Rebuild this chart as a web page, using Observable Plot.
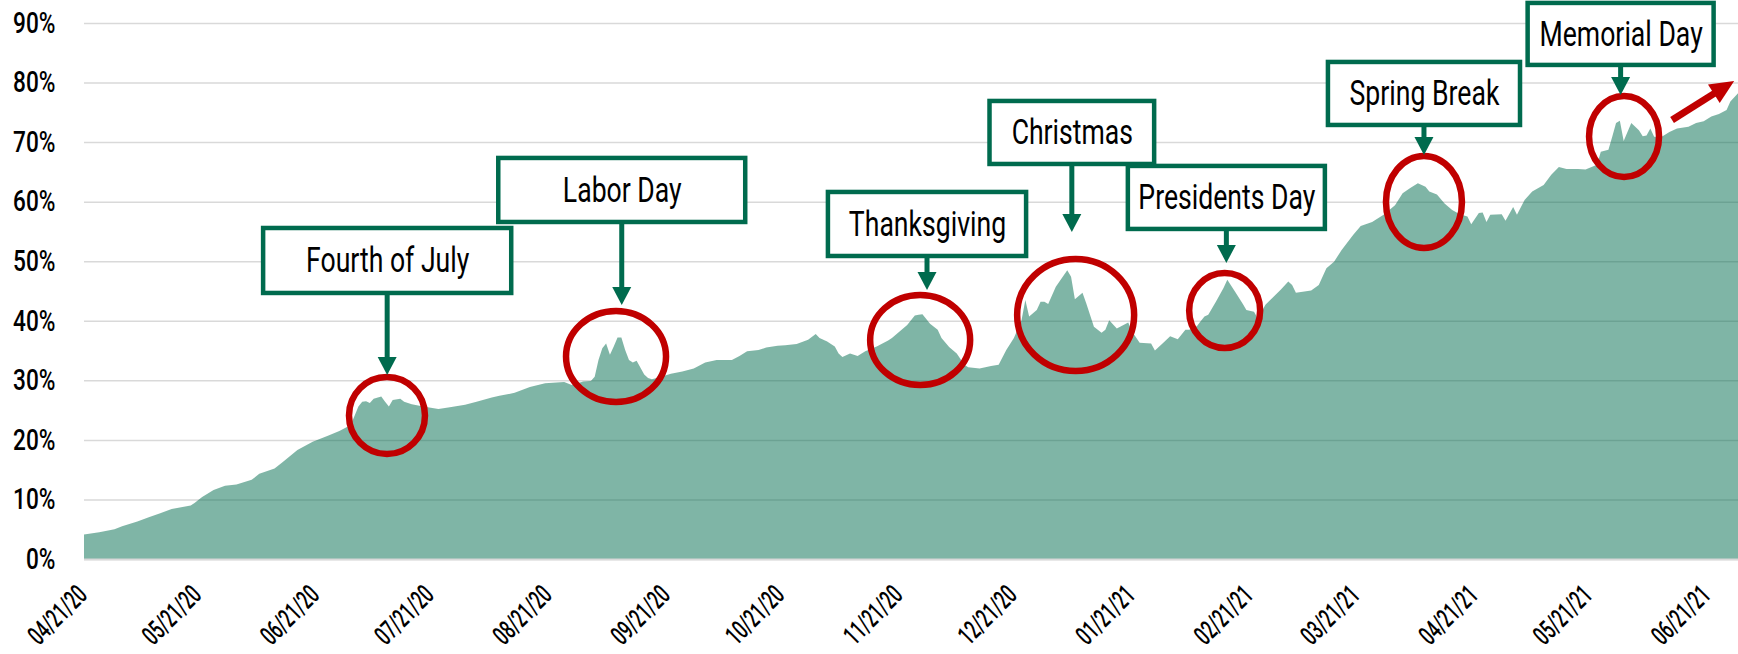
<!DOCTYPE html>
<html>
<head>
<meta charset="utf-8">
<script src="https://cdn.jsdelivr.net/npm/d3@7"></script>
<script src="https://cdn.jsdelivr.net/npm/@observablehq/plot@0.6"></script>
<style>
  html, body { margin: 0; padding: 0; background: #ffffff; }
  #chart svg { display: block; }
</style>
</head>
<body>
<div id="chart"></div>
<script>
// ---- Data ----
const startDate = "2020-04-21";          // day 0 of the series
const endDay = 434;                       // last day shown on the x axis

// days since startDate
const days = [
  0, 4, 8, 10, 14, 17, 20, 23, 28, 29,
  31, 34, 37, 40, 44, 46, 50, 52, 56, 60,
  64, 67, 70, 72, 73, 74, 75, 76, 78, 79,
  80, 81, 83, 84, 86, 89, 93, 96, 100, 103,
  107, 109, 113, 117, 121, 126, 128, 131, 133, 134,
  135, 136, 137, 138, 139, 140, 141, 142, 143, 144,
  145, 147, 148, 149, 151, 154, 157, 160, 163, 166,
  170, 172, 174, 177, 179, 182, 184, 187, 190, 192,
  193, 195, 197, 198, 199, 201, 203, 205, 208, 211,
  212, 214, 216, 218, 219, 220, 221, 222, 224, 225,
  227, 229, 231, 232, 235, 238, 240, 242, 244, 246,
  247, 248, 250, 251, 252, 253, 255, 258, 259, 260,
  262, 263, 265, 267, 268, 269, 271, 274, 275, 277,
  280, 281, 283, 285, 287, 289, 290, 292, 293, 294,
  295, 297, 299, 300, 302, 304, 305, 307, 308, 310,
  314, 316, 317, 318, 322, 324, 326, 328, 330, 333,
  335, 338, 341, 344, 346, 348, 350, 352, 353, 355,
  357, 359, 361, 363, 364, 366, 367, 368, 369, 372,
  373, 375, 376, 378, 380, 383, 385, 387, 389, 392,
  394, 397, 398, 400, 401, 402, 403, 404, 406, 408,
  409, 410, 411, 412, 414, 416, 418, 421, 423, 425,
  427, 429, 431, 432, 434
];

// percent values
const values = [
  4.1, 4.5, 5.0, 5.5, 6.3, 7.0, 7.7, 8.4, 9.0, 9.4,
  10.4, 11.6, 12.3, 12.5, 13.3, 14.3, 15.2, 16.2, 18.3, 19.7,
  20.7, 21.5, 22.5, 25.6, 26.4, 26.5, 26.2, 26.9, 27.3, 26.4,
  25.6, 26.7, 26.9, 26.4, 26.0, 25.6, 25.2, 25.5, 25.9, 26.4,
  27.1, 27.4, 27.9, 28.9, 29.5, 29.7, 29.2, 29.8, 29.9, 30.6,
  33.4, 35.4, 36.2, 34.3, 35.7, 37.2, 37.2, 35.1, 33.4, 33.0,
  33.3, 31.0, 30.4, 30.2, 30.5, 31.1, 31.5, 32.0, 33.0, 33.4,
  33.4, 34.1, 34.9, 35.1, 35.5, 35.8, 35.9, 36.1, 36.8, 37.8,
  37.1, 36.5, 35.7, 34.5, 33.9, 34.5, 34.1, 34.9, 35.7, 36.7,
  37.1, 38.2, 39.3, 40.9, 41.0, 41.1, 40.3, 39.5, 38.5, 37.1,
  35.6, 34.5, 32.6, 32.2, 32.0, 32.4, 32.6, 35.1, 37.1, 40.1,
  43.5, 40.7, 41.8, 43.2, 43.2, 42.8, 45.7, 48.5, 47.4, 43.6,
  44.7, 42.9, 39.0, 38.0, 38.5, 40.1, 38.7, 39.7, 38.2, 36.3,
  36.2, 35.0, 36.2, 37.4, 36.9, 38.5, 38.5, 39.1, 39.9, 40.7,
  41.0, 43.2, 45.5, 46.9, 44.9, 42.9, 41.8, 41.5, 40.4, 42.7,
  45.2, 46.6, 46.0, 44.7, 45.1, 46.0, 48.8, 49.9, 51.9, 54.4,
  55.9, 56.6, 57.8, 59.4, 61.4, 62.3, 63.1, 62.5, 61.7, 61.2,
  59.7, 58.6, 57.9, 57.5, 56.2, 58.1, 58.2, 56.6, 57.8, 57.9,
  56.8, 59.1, 57.8, 60.3, 61.7, 62.8, 64.5, 65.8, 65.5, 65.5,
  65.4, 66.2, 68.4, 68.7, 70.9, 73.2, 73.6, 70.2, 73.2, 72.0,
  71.0, 71.1, 72.3, 70.9, 70.9, 71.7, 72.3, 72.6, 73.2, 73.5,
  74.3, 74.7, 75.4, 76.8, 78.2
];

const tickDates = [
  "2020-04-21", "2020-05-21", "2020-06-21", "2020-07-21", "2020-08-21",
  "2020-09-21", "2020-10-21", "2020-11-21", "2020-12-21", "2021-01-21",
  "2021-02-21", "2021-03-21", "2021-04-21", "2021-05-21", "2021-06-21"
];
const yTicks = [0, 10, 20, 30, 40, 50, 60, 70, 80, 90];

const holidayLabels = ["Fourth of July", "Labor Day", "Thanksgiving", "Christmas",
                       "Presidents Day", "Spring Break", "Memorial Day"];

// ---- Annotation layout (in data units: days & percent) ----
const annotationLayout = [
  {x1: 47.0,  x2: 112.1, top: 55.58, bottom: 44.67, tip: 30.9,  cx: 79.5,  cy: 24.1,  rx: 38,   ry: 38.5},
  {x1: 108.7, x2: 173.5, top: 67.34, bottom: 56.59, tip: 42.65, cx: 139.6, cy: 34.0,  rx: 50,   ry: 45.5},
  {x1: 195.2, x2: 247.2, top: 61.63, bottom: 50.88, tip: 45.17, cx: 219.4, cy: 36.78, rx: 50,   ry: 45},
  {x1: 237.6, x2: 280.8, top: 76.91, bottom: 66.33, tip: 54.91, cx: 260.2, cy: 40.97, rx: 58.5, ry: 56},
  {x1: 273.9, x2: 325.6, top: 66.0,  bottom: 55.42, tip: 49.71, cx: 299.3, cy: 41.73, rx: 35.5, ry: 37.5},
  {x1: 326.4, x2: 376.8, top: 83.46, bottom: 72.88, tip: 67.84, cx: 351.6, cy: 59.95, rx: 38,   ry: 46},
  {x1: 378.8, x2: 427.6, top: 93.37, bottom: 82.96, tip: 77.92, cx: 404.1, cy: 70.95, rx: 35,   ry: 40.5}
];
const trendArrow = {from: [416.7, 73.72], to: [433.0, 80.27]};

// ---- Build ----
const t0 = new Date(startDate + "T00:00:00Z");
const dayToDate = d => new Date(+t0 + d * 864e5);
const series = days.map((d, i) => ({date: dayToDate(d), value: values[i]}));
const annotations = annotationLayout.map((a, i) => ({...a, label: holidayLabels[i]}));
const xTicks = tickDates.map(s => new Date(s + "T00:00:00Z"));
const fmtDate = d3.utcFormat("%m/%d/%y");

const GREEN = "#006B4E";
const RED = "#C00000";
const FONT = "Roboto, 'Open Sans', 'DejaVu Sans', sans-serif";

const plot = Plot.plot({
  width: 1738,
  height: 654,
  marginLeft: 84,
  marginRight: 0,
  marginTop: 23,
  marginBottom: 95,
  style: {fontFamily: FONT, fontSize: "29px", fontWeight: 500, color: "#000", background: "#fff", overflow: "visible"},
  x: {
    type: "utc",
    domain: [t0, dayToDate(endDay)],
    axis: null
  },
  y: {
    domain: [0, 90],
    ticks: yTicks,
    tickFormat: d => d + "%",
    tickSize: 0,
    tickPadding: 29,
    label: null
  },
  marks: [
    Plot.ruleY(yTicks, {stroke: "#D9D9D9", strokeWidth: 1.5}),
    Plot.areaY(series, {x: "date", y: "value", fill: GREEN, fillOpacity: 0.5}),
    Plot.ruleY([0], {stroke: "#D9D9D9", strokeWidth: 2}),
    Plot.text(xTicks, {
      x: d => d, y: () => 0, text: d => fmtDate(d),
      rotate: -45, textAnchor: "end", lineAnchor: "middle",
      dx: -2, dy: 31, fontSize: 27, fill: "#000"
    }),
    Plot.rect(annotations, {
      x1: d => dayToDate(d.x1), x2: d => dayToDate(d.x2),
      y1: "bottom", y2: "top",
      fill: "#fff", stroke: GREEN, strokeWidth: 4.5
    }),
    Plot.text(annotations, {
      x: d => dayToDate((d.x1 + d.x2) / 2),
      y: d => (d.top + d.bottom) / 2,
      text: "label", fontSize: 35, fontWeight: 400, fill: "#000"
    })
  ]
});

// Arrows and ellipses positioned through the plot's own scales
const X = plot.scale("x"), Y = plot.scale("y");
const sx = d => X.apply(dayToDate(d));
const sy = v => Y.apply(v);
const g = d3.select(plot).append("g").attr("class", "annotations");

for (const a of annotations) {
  g.append("ellipse")
    .attr("cx", sx(a.cx)).attr("cy", sy(a.cy))
    .attr("rx", a.rx).attr("ry", a.ry)
    .attr("fill", "none").attr("stroke", RED).attr("stroke-width", 6.5);
  const ax = sx((a.x1 + a.x2) / 2), yb = sy(a.bottom), yt = sy(a.tip);
  g.append("line")
    .attr("x1", ax).attr("x2", ax).attr("y1", yb).attr("y2", yt - 16)
    .attr("stroke", GREEN).attr("stroke-width", 5);
  g.append("path")
    .attr("d", `M${ax - 9.5},${yt - 18}L${ax + 9.5},${yt - 18}L${ax},${yt}Z`)
    .attr("fill", GREEN);
}

{
  const x0 = sx(trendArrow.from[0]), y0 = sy(trendArrow.from[1]);
  const x1 = sx(trendArrow.to[0]), y1 = sy(trendArrow.to[1]);
  const dx = x1 - x0, dy = y1 - y0, L = Math.hypot(dx, dy);
  const ux = dx / L, uy = dy / L, nx = -uy, ny = ux;
  const hl = 24, hw = 11;
  const bx = x1 - ux * hl, by = y1 - uy * hl;
  g.append("line")
    .attr("x1", x0).attr("y1", y0).attr("x2", bx + ux * 2).attr("y2", by + uy * 2)
    .attr("stroke", RED).attr("stroke-width", 7);
  g.append("path")
    .attr("d", `M${x1},${y1}L${bx + nx * hw},${by + ny * hw}L${bx - nx * hw},${by - ny * hw}Z`)
    .attr("fill", RED);
}

document.getElementById("chart").appendChild(plot);

// Condense the lettering (the reference uses a condensed face): squeeze each text
// horizontally with textLength, keeping it as real text.
const holidaySet = new Set(holidayLabels);
function condense() {
  plot.querySelectorAll("text").forEach(t => {
    const s = t.textContent.trim();
    let k = null;
    if (/^\d+%$/.test(s)) k = 0.78;
    else if (/^\d\d\/\d\d\/\d\d$/.test(s)) k = 0.62;
    else if (holidaySet.has(s)) k = 0.76;
    if (k == null) return;
    const w = t.getComputedTextLength();
    if (w > 0) {
      t.setAttribute("textLength", (w * k).toFixed(1));
      t.setAttribute("lengthAdjust", "spacingAndGlyphs");
    }
  });
}
condense();
</script>
</body>
</html>
